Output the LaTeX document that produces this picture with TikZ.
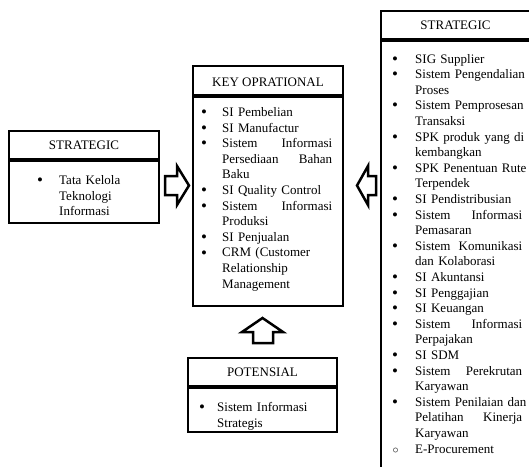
\documentclass[tikz,border=0pt]{standalone}
\usepackage{fontspec}
\setmainfont{Liberation Serif}
\newlength\bxtw
\newlength\bxin
\newcommand\bdot{\raisebox{-0.09em}{\scalebox{1.3}{\textbullet}}}
\newcommand\bfirst[1]{\hbox to \bxtw{\makebox[\bxin][l]{\bdot}#1\hfil}}
\newcommand\bcirc[1]{\hbox to \bxtw{\makebox[\bxin][l]{\hspace{0.5pt}$\circ$}#1\hfil}}
\newcommand\bnext[1]{\hbox to \bxtw{\hspace*{\bxin}#1\hfil}}
\tikzset{
  bx/.style={draw=black, line width=2.8pt, fill=white},
  sepline/.style={draw=black, line width=4.4pt},
  hd/.style={inner sep=0pt, font=\fontsize{13}{15.6}\selectfont},
  body/.style={anchor=base west, inner sep=0pt, text width=#1, font=\fontsize{13}{15.6}\selectfont},
  blockarrow/.style={draw=black, line width=2.5pt, fill=white, line join=miter},
}
\begin{document}
\begin{tikzpicture}[x=1pt,y=-1pt]
\useasboundingbox (0,0) rectangle (529,466);
\clip (0,0) rectangle (529,466);
\fill[white] (0,0) rectangle (529,466);

% left STRATEGIC box
\draw[bx] (9,131) rectangle (159,223);
\draw[sepline] (9,160) -- (159,160);
\node[hd] (lhead) at (84,145.5) {STRATEGIC};
\node[body=110pt] (lbody) at (37,184.5) {\setlength\bxtw{110pt}\setlength\bxin{22pt}%
\bfirst{Tata Kelola}
\bnext{Teknologi}
\bnext{Informasi}};

% KEY OPRATIONAL box
\draw[bx] (193,66) rectangle (343,306);
\draw[sepline] (193,96) -- (343,96);
\node[hd] (khead) at (268,82) {KEY OPRATIONAL};
\node[body=131pt] (kbody) at (201,116.5) {\setlength\bxtw{131pt}\setlength\bxin{21pt}%
\bfirst{SI Pembelian}
\bfirst{SI Manufactur}
\bfirst{Sistem\hfill Informasi}
\bnext{Persediaan\hfill Bahan}
\bnext{Baku}
\bfirst{SI Quality Control}
\bfirst{Sistem\hfill Informasi}
\bnext{Produksi}
\bfirst{SI Penjualan}
\bfirst{CRM (Customer}
\bnext{Relationship}
\bnext{Management}};

% POTENSIAL box
\draw[bx] (188,358) rectangle (337,432);
\draw[sepline] (188,387) -- (337,387);
\node[hd] (phead) at (262.5,372.5) {POTENSIAL};
\node[body=125pt] (pbody) at (199,411.5) {\setlength\bxtw{125pt}\setlength\bxin{18pt}%
\bfirst{Sistem Informasi}
\bnext{Strategis}};

% right STRATEGIC box
\draw[bx] (381,11) rectangle (536,490);
\draw[sepline] (381,40) -- (536,40);
\node[hd] (rhead) at (455.5,25.5) {STRATEGIC};
\node[body=130pt] (rbody) at (392,63) {\setlength\bxtw{130pt}\setlength\bxin{23pt}%
\bfirst{SIG Supplier}
\bfirst{Sistem Pengendalian}
\bnext{Proses}
\bfirst{Sistem Pemprosesan}
\bnext{Transaksi}
\bfirst{SPK produk yang di}
\bnext{kembangkan}
\bfirst{SPK Penentuan Rute}
\bnext{Terpendek}
\bfirst{SI Pendistribusian}
\bfirst{Sistem\hfill Informasi}
\bnext{Pemasaran}
\bfirst{Sistem\hfill Komunikasi}
\bnext{dan Kolaborasi}
\bfirst{SI Akuntansi}
\bfirst{SI Penggajian}
\bfirst{SI Keuangan}
\bfirst{Sistem\hfill Informasi}
\bnext{Perpajakan}
\bfirst{SI SDM}
\bfirst{Sistem\hfill Perekrutan}
\bnext{Karyawan}
\bfirst{Sistem Penilaian dan}
\bnext{Pelatihan\hfill Kinerja}
\bnext{Karyawan}
\bcirc{E-Procurement}};

% block arrows
\draw[blockarrow] (165,176) -- (177,176) -- (177,166) -- (189,185.5) -- (177,205) -- (177,195) -- (165,195) -- cycle;
\draw[blockarrow] (376,176) -- (368,176) -- (368,166) -- (357,185.5) -- (368,205) -- (368,195) -- (376,195) -- cycle;
\draw[blockarrow] (253,343) -- (253,332) -- (242,332) -- (262.5,318) -- (283,332) -- (273,332) -- (273,343) -- cycle;
\end{tikzpicture}
\end{document}
